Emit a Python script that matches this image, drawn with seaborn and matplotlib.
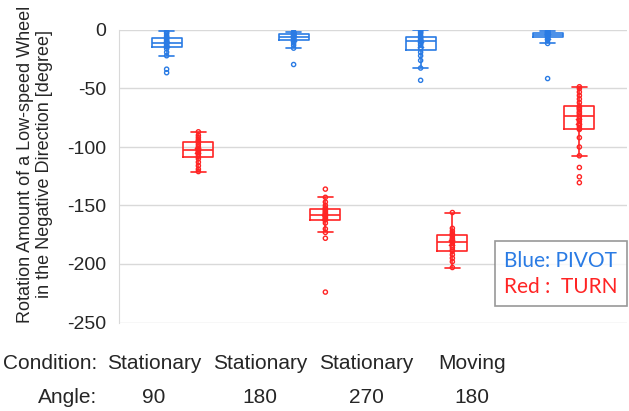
import pandas as pd
import matplotlib.pyplot as plt
import seaborn as sns
from matplotlib.lines import Line2D

conditions = ["Stationary", "Stationary", "Stationary", "Moving"]
angles = ["90", "180", "270", "180"]
groups = ["Stationary 90", "Stationary 180", "Stationary 270", "Moving 180"]
modes = ["PIVOT", "TURN"]

# PIVOT values per condition
pivot_s90 = [-1, -2, -3, -5, -6, -7, -8, -9, -10, -10.5, -11, -12, -13, -14,
             -14, -16, -19, -22, -33.5, -36.5]
pivot_s180 = [-1.5, -2, -2.5, -3, -3, -3.5, -4, -4.5, -5, -5.5, -6, -6.5, -7,
              -7.5, -8.5, -9.5, -11, -13, -15.5, -29.5]
pivot_s270 = [0, -1, -2, -3, -5, -6, -7, -8, -9, -9, -9.5, -12, -13, -15, -16,
              -19, -22, -26, -32.5, -43]
pivot_m180 = [-0.5, -1, -1.5, -2, -2, -2.5, -3, -3.5, -4, -4, -4.5, -5, -5.5,
              -6, -6.5, -7.5, -9, -11.5, -41.5]

# TURN values per condition
turn_s90 = [-87, -90, -92, -94, -95, -96, -98, -100, -101, -102, -103, -104,
            -105, -106, -108, -110, -113, -116, -119, -121]
turn_s180 = [-136, -143, -147, -150, -152, -153, -154, -155, -156, -157,
             -157.5, -158, -159, -160, -161, -162, -162, -165, -170, -173,
             -178, -224]
turn_s270 = [-156, -169.5, -172, -174, -175, -176, -178, -179, -180, -181,
             -182, -184, -186, -188, -189, -192, -195, -198, -203]
turn_m180 = [-48.5, -50, -53, -56, -59, -62, -65, -66, -67, -68, -70, -71,
             -72.5, -74, -76, -78, -80, -82, -84, -85, -92, -100, -107.5,
             -117.5, -125.5, -130.5]

pivot_data = [pivot_s90, pivot_s180, pivot_s270, pivot_m180]
turn_data = [turn_s90, turn_s180, turn_s270, turn_m180]

rows = []
for g, vals in zip(groups, pivot_data):
    for v in vals:
        rows.append({"group": g, "mode": "PIVOT", "value": v})
for g, vals in zip(groups, turn_data):
    for v in vals:
        rows.append({"group": g, "mode": "TURN", "value": v})
df = pd.DataFrame(rows)

blue = "#2a7be4"
red = "#ff2424"
pal = {"PIVOT": blue, "TURN": red}

sns.set_style("white")
plt.rcParams['font.family'] = ['Liberation Sans', 'DejaVu Sans']
plt.rcParams['axes.unicode_minus'] = False

fig = plt.figure(figsize=(6.29, 4.11), dpi=100)
ax = fig.add_axes([119 / 629, 1 - 322.5 / 411, (627 - 119) / 629, 292.5 / 411])

sns.boxplot(data=df, x="group", y="value", hue="mode", order=groups,
            hue_order=modes, palette=pal, fill=False, width=0.5, gap=0.05,
            showfliers=False, whis=1.5, linewidth=1.2, showmeans=True,
            meanprops={"marker": "x", "markersize": 4.5, "markeredgewidth": 1.1},
            legend=False, ax=ax)

# colour the mean markers by hue (left box = PIVOT, right box = TURN)
for ln in ax.lines:
    if ln.get_marker() == "x":
        xd = ln.get_xdata()[0]
        col = blue if xd < round(xd) else red
        ln.set_color(col)
        ln.set_markeredgecolor(col)

n_before = len(ax.collections)
sns.stripplot(data=df, x="group", y="value", hue="mode", order=groups,
              hue_order=modes, palette=pal, dodge=True, jitter=False,
              size=3.0, legend=False, ax=ax)
for c in ax.collections[n_before:]:
    fc = c.get_facecolor()
    c.set_edgecolor(fc)
    c.set_facecolor("none")
    c.set_linewidth(1.0)
    offs = c.get_offsets()
    if len(offs):
        for k in range(len(offs)):
            base = round(offs[k, 0])
            offs[k, 0] = base - 0.125 if offs[k, 0] < base else base + 0.125
        c.set_offsets(offs)

ax.set_ylim(-250, 0)
ax.set_yticks([0, -50, -100, -150, -200, -250])
ax.set_xlim(-0.5, 3.5)
ax.yaxis.grid(True, color="#d9d9d9", linewidth=1)
ax.set_axisbelow(True)
for s in ["top", "right", "bottom"]:
    ax.spines[s].set_visible(False)
ax.spines["left"].set_color("#d9d9d9")
ax.tick_params(axis="y", length=0, pad=9, labelsize=14)
ax.set_xticks([])
ax.set_xlabel("")
ax.set_ylabel("")

fig.text(35 / 629, 1 - 164 / 411,
         "Rotation Amount of a Low-speed Wheel\nin the Negative Direction [degree]",
         rotation=90, ha="center", va="center", multialignment="center",
         fontsize=13, linespacing=1.1)

# condition / angle rows under the chart
fig.text(97 / 629, 1 - 363 / 411, "Condition:", ha="right", va="center", fontsize=15)
fig.text(97 / 629, 1 - 397 / 411, "Angle:", ha="right", va="center", fontsize=15)
for i, (c, a) in enumerate(zip(conditions, angles)):
    x = (154 + i * 106) / 629
    fig.text(x, 1 - 363 / 411, c, ha="center", va="center", fontsize=15)
    fig.text(x, 1 - 397 / 411, a, ha="center", va="center", fontsize=15)

handles = [Line2D([], [], linestyle="none"), Line2D([], [], linestyle="none")]
leg = ax.legend(handles, ["Blue: PIVOT", "Red :  TURN"], labelcolor=[blue, red],
                handlelength=0, handletextpad=0, loc="lower right",
                bbox_to_anchor=(1.0, 0.055), borderaxespad=0, frameon=True,
                fancybox=False, edgecolor="#7f7f7f", borderpad=0.45,
                labelspacing=0.3, prop={"family": ["Lato", "DejaVu Sans"], "size": 15})
leg.get_frame().set_linewidth(1.2)

fig.savefig("out.png", dpi=100)
